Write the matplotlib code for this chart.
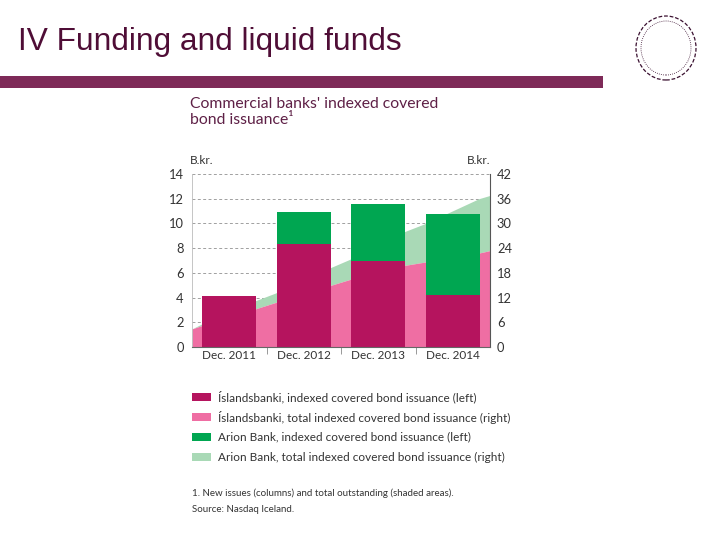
import matplotlib
matplotlib.use('Agg')
import matplotlib.pyplot as plt
from matplotlib.patches import Rectangle, Ellipse
import numpy as np

# columns: new issues, B.kr. (left axis)
categories = ['Dec. 2011', 'Dec. 2012', 'Dec. 2013', 'Dec. 2014']
islands_new = [4.15, 8.3, 7.0, 4.2]
arion_new = [0.0, 2.6, 4.6, 6.6]

# shaded areas: total outstanding, B.kr. (right axis)
area_x = [0.0, 0.13, 0.86, 1.12, 1.85, 2.12, 2.85, 3.12, 3.85, 4.0]
islands_total = [4.4, 5.2, 9.3, 10.8, 14.9, 16.4, 19.8, 20.6, 22.8, 23.4]
arion_total = [0.0, 0.4, 2.0, 2.3, 4.3, 4.9, 8.2, 9.3, 13.2, 13.4]

left_ticks = [0, 2, 4, 6, 8, 10, 12, 14]
right_ticks = [0, 6, 12, 18, 24, 30, 36, 42]

c_isl = '#b5145e'
c_isl_area = '#ef6ea3'
c_ari = '#00a651'
c_ari_area = '#a9d9b6'
txt = '#333333'

plt.rcParams['font.family'] = ['Lato', 'DejaVu Sans']

fig = plt.figure(figsize=(7.2, 5.4), dpi=100)
W, H = 720.0, 540.0

# slide title, banner and logo
fig.text(18 / W, 1 - 42 / H, 'IV Funding and liquid funds', family='Liberation Sans',
         fontsize=22.8, color='#4f0d36', va='center', ha='left')
fig.add_artist(Rectangle((0, 1 - 88 / H), 603 / W, 12 / H, transform=fig.transFigure,
                         color='#7e2a58', lw=0))
fig.add_artist(Ellipse((666 / W, 1 - 48 / H), 60 / W, 64 / H, transform=fig.transFigure,
                       fill=False, ec='#3a1030', lw=0.9, ls=(0, (3, 1.5))))
fig.add_artist(Ellipse((666 / W, 1 - 48 / H), 50 / W, 54 / H, transform=fig.transFigure,
                       fill=False, ec='#3a1030', lw=0.6, ls=(0, (1, 1.5))))

# chart title
fig.text(190 / W, 1 - 112 / H, "Commercial banks' indexed covered\nbond issuance\u00b9",
         fontsize=11.3, color='#5e2046', va='center', ha='left', linespacing=1.15)
fig.text(190 / W, 1 - 160 / H, 'B.kr.', fontsize=8.5, color=txt, va='center', ha='left')
fig.text(467 / W, 1 - 160 / H, 'B.kr.', fontsize=8.5, color=txt, va='center', ha='left')

ax = fig.add_axes([192 / W, 1 - 347 / H, 298 / W, 173 / H])
ax2 = ax.twinx()
ax.set_zorder(ax2.get_zorder() + 1)
ax.patch.set_visible(False)

# shaded areas on right axis
isl = np.array(islands_total)
ari = isl + np.array(arion_total)
ax2.fill_between(area_x, isl, ari, color=c_ari_area, lw=0, zorder=2)
ax2.fill_between(area_x, 0, isl, color=c_isl_area, lw=0, zorder=2)
ax2.set_ylim(0, 42)
ax2.set_yticks(right_ticks)
ax2.yaxis.grid(True, ls=(0, (3, 2.5)), color='#a0a0a0', lw=0.7, zorder=0)
ax2.set_axisbelow(True)

# columns on left axis
x = np.arange(len(categories)) + 0.5
ax.bar(x, islands_new, width=0.72, color=c_isl, lw=0)
ax.bar(x, arion_new, width=0.72, bottom=islands_new, color=c_ari, lw=0)
ax.set_ylim(0, 14)
ax.set_xlim(0, 4)
ax.set_yticks(left_ticks)
ax.set_xticks(x)
ax.set_xticklabels(categories)
ax.set_xticks([1, 2, 3], minor=True)

for a in (ax, ax2):
    a.spines['top'].set_visible(False)
ax.spines['right'].set_visible(False)
ax2.spines['left'].set_visible(False)
ax2.spines['bottom'].set_visible(False)
ax.spines['left'].set_color('#bbbbbb')
ax.spines['left'].set_linewidth(0.6)
ax.spines['bottom'].set_color('#666666')
ax.spines['bottom'].set_linewidth(0.8)
ax2.spines['right'].set_color('#555555')
ax2.spines['right'].set_linewidth(0.8)

ax.tick_params(axis='y', length=0, labelsize=9.3, colors=txt, pad=6)
ax2.tick_params(axis='y', length=0, labelsize=9.3, colors=txt, pad=5)
ax.tick_params(axis='x', which='major', length=0, labelsize=8.5, colors=txt, pad=2)
ax.tick_params(axis='x', which='minor', length=5, width=0.6, color='#888888')

# legend
labels = ['\u00cdslandsbanki, indexed covered bond issuance (left)',
          '\u00cdslandsbanki, total indexed covered bond issuance (right)',
          'Arion Bank, indexed covered bond issuance (left)',
          'Arion Bank, total indexed covered bond issuance (right)']
colors = [c_isl, c_isl_area, c_ari, c_ari_area]
for i, (lab, col) in enumerate(zip(labels, colors)):
    yc = 397 + 20 * i
    fig.add_artist(Rectangle((192 / W, 1 - (yc + 4) / H), 19 / W, 8 / H,
                             transform=fig.transFigure, color=col, lw=0))
    fig.text(218 / W, 1 - yc / H, lab, fontsize=8.5, color=txt, va='center', ha='left')

fig.text(192 / W, 1 - 493 / H, '1. New issues (columns) and total outstanding (shaded areas).',
         fontsize=7, color=txt, va='center', ha='left')
fig.text(192 / W, 1 - 509 / H, 'Source: Nasdaq Iceland.',
         fontsize=7, color=txt, va='center', ha='left')

fig.savefig('out.png', dpi=100)
